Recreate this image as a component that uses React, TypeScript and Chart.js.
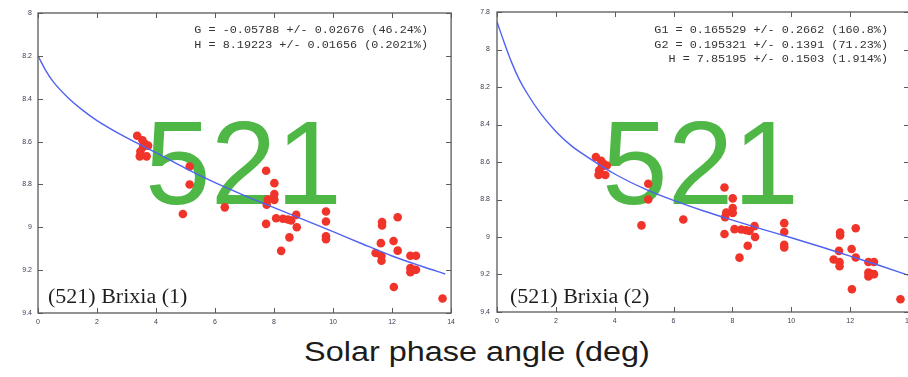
import React, { useEffect, useRef } from 'react';
import { Chart, registerables } from 'chart.js';

Chart.register(...registerables);

// ---- data ----
const phaseAngle = [
  3.36, 3.54, 3.62, 3.73, 3.56, 3.47, 3.45, 3.68, 5.14, 5.14,
  4.91, 6.33, 7.73, 8.01, 8.01, 7.79, 8.01, 7.75, 7.99, 8.75,
  8.07, 8.3, 8.47, 8.58, 7.73, 8.77, 8.52, 8.24, 9.76, 9.76,
  9.76, 9.76, 11.66, 11.66, 12.19, 11.62, 12.05, 12.19, 11.44, 11.64,
  11.64, 12.62, 12.81, 12.62, 12.73, 12.62, 12.81, 12.06, 13.71,
];
const magnitude = [
  8.573, 8.594, 8.61, 8.619, 8.625, 8.646, 8.669, 8.669, 8.716, 8.8,
  8.938, 8.907, 8.736, 8.794, 8.845, 8.87, 8.872, 8.895, 8.866, 8.942,
  8.958, 8.96, 8.964, 8.968, 8.984, 9.0, 9.047, 9.11, 8.926, 8.973,
  9.042, 9.056, 8.976, 8.992, 8.953, 9.074, 9.064, 9.109, 9.12, 9.134,
  9.156, 9.133, 9.133, 9.19, 9.198, 9.21, 9.198, 9.279, 9.332,
];

const fit1Angle = [0, 0.25, 0.5, 1, 1.5, 2, 3, 4, 5, 6, 7, 8, 9, 10, 11, 12, 13, 13.8];
const fit1Mag = [8.2, 8.265, 8.318, 8.393, 8.452, 8.502, 8.582, 8.652, 8.725, 8.792, 8.852, 8.908, 8.964, 9.02, 9.078, 9.134, 9.182, 9.218];

const fit2Angle = [0, 0.25, 0.5, 0.75, 1, 1.5, 2, 2.5, 3, 4, 5, 6, 7, 8, 9, 10, 11, 12, 13, 14];
const fit2Mag = [7.852, 7.965, 8.07, 8.158, 8.228, 8.345, 8.437, 8.51, 8.566, 8.664, 8.742, 8.805, 8.86, 8.91, 8.958, 9.004, 9.052, 9.102, 9.152, 9.205];

const xTickValues = [0, 2, 4, 6, 8, 10, 12, 14];
const yTicks1 = [8, 8.2, 8.4, 8.6, 8.8, 9, 9.2, 9.4];
const yTicks2 = [7.8, 8, 8.2, 8.4, 8.6, 8.8, 9, 9.2, 9.4];

const fit1Text = [
  'G = -0.05788 +/- 0.02676 (46.24%)',
  'H = 8.19223 +/- 0.01656 (0.2021%)',
];
const fit2Text = [
  'G1 = 0.165529 +/- 0.2662 (160.8%)',
  'G2 = 0.195321 +/- 0.1391 (71.23%)',
  'H = 7.85195 +/- 0.1503 (1.914%)',
];
const panelLabels = ['(521) Brixia (1)', '(521) Brixia (2)'];
const bigLabel = '521';
const xAxisTitle = 'Solar phase angle (deg)';

// ---- styling ----
const SANS = "'Liberation Sans', Arial, Helvetica, sans-serif";
const MONO = "'Liberation Mono', 'DejaVu Sans Mono', monospace";
const SERIF = "'Liberation Serif', 'Times New Roman', serif";

type Panel = {
  yMin: number;
  yMax: number;
  yTicks: number[];
  fitX: number[];
  fitY: number[];
  annot: string[];
  label: string;
  pad: { top: number; right: number };
  yWidth: number;
  xHeight: number;
  yPad: number;
  bigX: number;
  labelX: number;
};

function stretchedText(ctx: CanvasRenderingContext2D, text: string, x: number, y: number, sx: number) {
  ctx.save();
  ctx.translate(x, y);
  ctx.scale(sx, 1);
  ctx.fillText(text, 0, 0);
  ctx.restore();
}

function makeDecor(p: Panel) {
  return {
    id: 'decor',
    beforeDatasetsDraw(chart: any) {
      const ctx: CanvasRenderingContext2D = chart.ctx;
      ctx.save();
      ctx.fillStyle = 'rgb(78,183,70)';
      ctx.font = `118px ${SANS}`;
      ctx.textAlign = 'left';
      ctx.textBaseline = 'alphabetic';
      ctx.fillText(bigLabel, p.bigX, 203.5);
      ctx.restore();
    },
    afterDraw(chart: any) {
      const ctx: CanvasRenderingContext2D = chart.ctx;
      const a = chart.chartArea;
      const xs = chart.scales.x;
      const ys = chart.scales.y;
      ctx.save();
      // frame
      ctx.strokeStyle = '#5a5a5a';
      ctx.lineWidth = 1.3;
      ctx.strokeRect(a.left, a.top, a.right - a.left, a.bottom - a.top);
      // inward ticks
      ctx.lineWidth = 1;
      ctx.beginPath();
      const tl = 5;
      xTickValues.forEach((v) => {
        const px = Math.round(xs.getPixelForValue(v)) + 0.5;
        ctx.moveTo(px, a.bottom);
        ctx.lineTo(px, a.bottom - tl);
        ctx.moveTo(px, a.top);
        ctx.lineTo(px, a.top + tl);
      });
      p.yTicks.forEach((v) => {
        const py = Math.round(ys.getPixelForValue(v)) + 0.5;
        ctx.moveTo(a.left, py);
        ctx.lineTo(a.left + tl, py);
        ctx.moveTo(a.right, py);
        ctx.lineTo(a.right - tl, py);
      });
      ctx.stroke();
      // fit annotation
      ctx.fillStyle = '#333';
      ctx.font = `10px ${MONO}`;
      ctx.textAlign = 'right';
      ctx.textBaseline = 'middle';
      p.annot.forEach((t, i) => stretchedText(ctx, t, 428, 30.5 + i * 14.5, 1.18));
      // panel label
      ctx.fillStyle = '#1e1e1e';
      ctx.font = `20px ${SERIF}`;
      ctx.textAlign = 'left';
      ctx.textBaseline = 'alphabetic';
      stretchedText(ctx, p.label, p.labelX, 303, 1.1);
      ctx.restore();
    },
  };
}

function buildConfig(p: Panel): any {
  const tickFont = { size: 7, family: SANS };
  return {
    type: 'scatter',
    data: {
      datasets: [
        {
          data: p.fitX.map((x, i) => ({ x, y: p.fitY[i] })),
          showLine: true,
          pointRadius: 0,
          borderColor: 'rgb(80,98,242)',
          borderWidth: 1.4,
          cubicInterpolationMode: 'monotone',
          fill: false,
        },
        {
          data: phaseAngle.map((x, i) => ({ x, y: magnitude[i] })),
          showLine: false,
          pointRadius: 4.3,
          pointBackgroundColor: 'rgb(240,52,42)',
          pointBorderWidth: 0,
          pointBorderColor: 'rgba(0,0,0,0)',
        },
      ],
    },
    options: {
      animation: false,
      responsive: false,
      maintainAspectRatio: false,
      events: [],
      layout: { padding: { left: 0, top: p.pad.top, right: p.pad.right, bottom: 0 } },
      plugins: { legend: { display: false }, tooltip: { enabled: false }, title: { display: false } },
      scales: {
        x: {
          type: 'linear',
          min: 0,
          max: 14,
          grid: { display: false, drawTicks: false },
          border: { display: false },
          afterBuildTicks: (s: any) => {
            s.ticks = xTickValues.map((v) => ({ value: v }));
          },
          afterFit: (s: any) => {
            s.height = p.xHeight;
          },
          ticks: {
            font: tickFont,
            color: '#3b4152',
            padding: 5,
            maxRotation: 0,
            autoSkip: false,
            callback: (v: number) => String(v),
          },
        },
        y: {
          type: 'linear',
          reverse: true,
          min: p.yMin,
          max: p.yMax,
          grid: { display: false, drawTicks: false },
          border: { display: false },
          afterBuildTicks: (s: any) => {
            s.ticks = p.yTicks.map((v) => ({ value: v }));
          },
          afterFit: (s: any) => {
            s.width = p.yWidth;
          },
          ticks: {
            font: tickFont,
            color: '#3b4152',
            padding: p.yPad,
            autoSkip: false,
            callback: (v: number) => String(v),
          },
        },
      },
    },
    plugins: [makeDecor(p)],
  };
}

const panels: Panel[] = [
  {
    yMin: 8,
    yMax: 9.4,
    yTicks: yTicks1,
    fitX: fit1Angle,
    fitY: fit1Mag,
    annot: fit1Text,
    label: panelLabels[0],
    pad: { top: 13, right: 8 },
    yWidth: 38,
    xHeight: 17,
    yPad: 6,
    bigX: 145,
    labelX: 48,
  },
  {
    yMin: 7.8,
    yMax: 9.4,
    yTicks: yTicks2,
    fitX: fit2Angle,
    fitY: fit2Mag,
    annot: fit2Text,
    label: panelLabels[1],
    pad: { top: 12, right: 11 },
    yWidth: 37,
    xHeight: 18,
    yPad: 7,
    bigX: 142,
    labelX: 50,
  },
];

function PanelChart({ panel, left }: { panel: Panel; left: number }) {
  const ref = useRef<HTMLCanvasElement | null>(null);
  useEffect(() => {
    if (!ref.current) return;
    const chart = new Chart(ref.current, buildConfig(panel));
    return () => chart.destroy();
  }, [panel]);
  return (
    <canvas
      ref={ref}
      width={460}
      height={330}
      style={{ position: 'absolute', left, top: 0, width: 460, height: 330 }}
    />
  );
}

export default function App() {
  return (
    <div
      style={{
        position: 'absolute',
        left: 0,
        top: 0,
        width: 908,
        height: 377,
        overflow: 'hidden',
        background: '#ffffff',
      }}
    >
      <PanelChart panel={panels[0]} left={0} />
      <PanelChart panel={panels[1]} left={460} />
      <div
        style={{
          position: 'absolute',
          left: 476.5,
          top: 339,
          font: `27px ${SANS}`,
          lineHeight: '27px',
          color: '#1c1c1c',
          whiteSpace: 'nowrap',
          transform: 'translateX(-50%) scaleX(1.2)',
          transformOrigin: 'center',
        }}
      >
        {xAxisTitle}
      </div>
    </div>
  );
}
